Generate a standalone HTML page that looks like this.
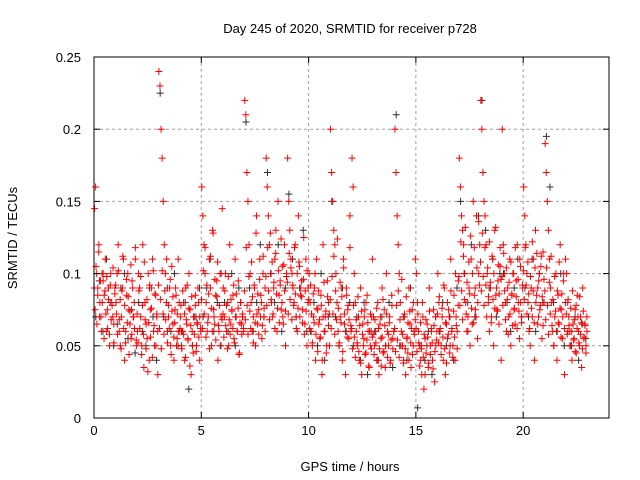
<!DOCTYPE html>
<html><head><meta charset="utf-8"><style>
body{margin:0;background:#fff}
svg{display:block;font-family:"Liberation Sans",sans-serif}
</style></head><body>
<svg id="c" width="640" height="480">
<g id="grid"></g>
<g id="pts"></g>
<g id="axes"></g>
<text x="350" y="33" text-anchor="middle" font-size="13">Day 245 of 2020, SRMTID for receiver p728</text>
<text x="350" y="471" text-anchor="middle" font-size="13">GPS time / hours</text>
<text transform="translate(17,238) rotate(-90)" text-anchor="middle" font-size="13">SRMTID / TECUs</text>
</svg>
<script>
const xTicks=[0,5,10,15,20];
const yTicks=[0,0.05,0.1,0.15,0.2,0.25];
const yTickLabels=["0","0.05","0.1","0.15","0.2","0.25"];
const redHours=[
[.145,.16,.1,.09,.12,.08,.07,.1,.095,.085,.11,.06,.075,.09,.05,.1,.08,.07,.065,.09],
[.08,.1,.12,.06,.05,.07,.09,.11,.04,.06,.085,.1,.075,.065,.055,.095,.07,.08,.11,.05],
[.06,.1,.09,.07,.05,.12,.035,.08,.065,.055,.1,.04,.075,.09,.11,.06,.05,.085,.07,.03],
[.24,.23,.2,.18,.15,.12,.1,.08,.06,.07,.09,.05,.105,.065,.04,.075,.085,.055,.11,.06],
[.07,.05,.06,.08,.04,.09,.065,.055,.1,.075,.03,.06,.045,.07,.085,.05,.065,.08,.04,.06],
[.16,.14,.12,.1,.08,.06,.07,.11,.09,.05,.13,.075,.065,.085,.095,.04,.06,.1,.07,.145],
[.09,.07,.1,.06,.08,.05,.12,.065,.075,.085,.055,.11,.07,.06,.095,.045,.08,.065,.07,.06],
[.22,.21,.17,.15,.12,.1,.08,.06,.07,.09,.05,.14,.065,.075,.11,.085,.055,.1,.07,.06],
[.18,.16,.14,.12,.1,.08,.07,.09,.11,.13,.06,.15,.085,.095,.075,.105,.065,.12,.05,.1],
[.18,.15,.13,.11,.1,.09,.08,.12,.07,.06,.14,.105,.085,.095,.075,.125,.065,.11,.05,.09],
[.1,.08,.06,.05,.07,.09,.04,.11,.075,.065,.055,.085,.03,.12,.06,.07,.045,.095,.08,.05],
[.2,.17,.15,.13,.12,.1,.08,.06,.05,.07,.09,.04,.11,.065,.03,.085,.075,.055,.14,.06],
[.18,.16,.1,.08,.06,.05,.07,.04,.09,.03,.065,.055,.075,.045,.085,.06,.035,.05,.07,.11],
[.07,.05,.06,.04,.08,.03,.065,.055,.09,.045,.075,.035,.1,.06,.05,.07,.04,.085,.055,.06],
[.2,.17,.14,.12,.1,.08,.06,.05,.04,.07,.03,.055,.045,.09,.065,.035,.075,.05,.06,.11],
[.1,.08,.06,.05,.04,.03,.07,.02,.055,.045,.065,.035,.09,.05,.06,.04,.075,.025,.05,.06],
[.1,.08,.06,.05,.07,.04,.09,.03,.065,.055,.075,.045,.11,.06,.05,.085,.04,.07,.06,.095],
[.18,.16,.14,.13,.12,.1,.08,.06,.07,.09,.05,.11,.065,.15,.085,.075,.14,.055,.1,.12],
[.22,.2,.17,.15,.14,.12,.1,.08,.06,.09,.07,.11,.05,.13,.085,.075,.095,.065,.105,.04],
[.2,.12,.1,.08,.06,.09,.07,.11,.05,.085,.1,.075,.065,.095,.12,.08,.055,.105,.07,.09],
[.16,.14,.12,.1,.08,.06,.05,.09,.07,.11,.04,.13,.085,.065,.095,.075,.105,.055,.115,.08],
[.19,.17,.15,.13,.11,.09,.08,.06,.05,.07,.1,.04,.085,.065,.12,.075,.055,.095,.03,.11],
[.1,.08,.07,.06,.05,.04,.065,.055,.075,.045,.085,.06,.05,.07,.035,.09,.055,.065,.045,.06]
];
const redHours2=[
[.09,.075,.105,.065,.085,.115,.07,.095,.06,.08,.1,.055,.088,.072,.098,.062,.082,.058,.092,.068,.078,.104,.052,.086],
[.092,.072,.058,.102,.068,.082,.048,.088,.112,.062,.078,.052,.096,.066,.084,.044,.074,.106,.058,.09,.07,.062,.118,.054],
[.072,.052,.088,.062,.098,.044,.078,.058,.108,.068,.048,.082,.032,.066,.092,.056,.076,.042,.102,.064,.086,.05,.072,.06],
[.092,.062,.082,.048,.102,.072,.058,.088,.068,.11,.052,.078,.062,.096,.044,.074,.084,.056,.066,.09,.05,.072,.06,.08],
[.062,.078,.048,.088,.058,.072,.042,.068,.092,.054,.076,.036,.064,.084,.05,.07,.058,.078,.046,.066,.09,.056,.07,.062],
[.082,.062,.102,.072,.118,.056,.092,.066,.086,.048,.112,.076,.06,.128,.07,.096,.054,.084,.108,.064,.078,.05,.1,.068],
[.072,.056,.088,.064,.078,.048,.098,.068,.058,.082,.074,.062,.092,.052,.07,.086,.06,.076,.044,.066,.08,.058,.072,.062],
[.088,.068,.118,.078,.058,.098,.074,.062,.108,.084,.052,.092,.066,.128,.072,.086,.058,.096,.07,.08,.064,.112,.076,.09],
[.098,.078,.118,.088,.068,.128,.082,.108,.072,.094,.062,.114,.086,.076,.102,.066,.092,.124,.08,.07,.106,.088,.074,.098],
[.094,.072,.114,.082,.104,.068,.092,.078,.118,.086,.062,.1,.076,.108,.07,.09,.084,.066,.096,.058,.088,.074,.102,.08],
[.082,.062,.092,.072,.052,.086,.066,.1,.058,.076,.046,.088,.068,.056,.078,.04,.07,.094,.06,.074,.05,.084,.064,.072],
[.082,.062,.098,.072,.112,.058,.088,.068,.124,.076,.052,.094,.066,.084,.046,.104,.072,.06,.09,.056,.078,.068,.118,.064],
[.062,.048,.078,.056,.042,.068,.052,.084,.046,.064,.038,.074,.058,.05,.07,.044,.08,.054,.066,.036,.06,.072,.048,.056],
[.058,.044,.068,.052,.076,.04,.062,.048,.07,.036,.056,.082,.046,.064,.05,.072,.042,.058,.066,.038,.054,.078,.048,.06],
[.062,.046,.078,.054,.088,.042,.068,.05,.096,.058,.038,.072,.048,.084,.056,.066,.04,.074,.052,.062,.044,.08,.058,.068],
[.062,.046,.072,.052,.036,.066,.048,.08,.042,.058,.03,.068,.05,.056,.038,.074,.044,.062,.052,.034,.064,.046,.07,.054],
[.072,.052,.084,.062,.044,.076,.056,.092,.048,.066,.038,.08,.058,.07,.05,.088,.062,.042,.074,.056,.1,.064,.048,.078],
[.098,.078,.122,.088,.068,.112,.082,.132,.072,.094,.06,.108,.086,.126,.076,.1,.066,.118,.09,.07,.104,.08,.136,.092],
[.108,.088,.128,.098,.078,.118,.092,.07,.104,.084,.122,.094,.066,.112,.082,.1,.076,.132,.09,.074,.106,.086,.118,.096],
[.098,.078,.114,.088,.068,.104,.082,.058,.094,.072,.108,.086,.064,.1,.076,.118,.084,.062,.096,.074,.11,.08,.066,.092],
[.102,.082,.118,.092,.072,.108,.086,.062,.098,.076,.122,.088,.066,.104,.08,.114,.09,.07,.1,.078,.112,.084,.064,.096],
[.088,.068,.104,.078,.058,.094,.072,.112,.064,.082,.05,.098,.074,.06,.088,.066,.108,.076,.056,.086,.07,.1,.062,.08],
[.072,.058,.082,.064,.05,.076,.06,.088,.054,.068,.046,.078,.062,.07,.052,.084,.058,.066,.048,.074,.056,.064,.05,.07]
];
const blackHours=[
[.07,.095,.06,.11,.08,.05],[.065,.09,.1,.055,.075,.045],[.08,.06,.05,.09,.07,.04],
[.225,.07,.09,.06,.1,.05],[.06,.08,.02,.05,.07,.09],[.07,.09,.11,.06,.08,.05],
[.08,.06,.1,.05,.09,.07],[.205,.09,.06,.08,.12,.07],[.17,.1,.08,.12,.06,.09],
[.155,.11,.07,.09,.13,.06],[.06,.08,.05,.1,.04,.07],[.15,.07,.05,.09,.06,.08],
[.05,.07,.04,.08,.03,.06],[.06,.04,.07,.05,.08,.035],[.21,.05,.07,.04,.09,.06],
[.007,.05,.04,.06,.03,.07],[.06,.08,.05,.07,.04,.09],[.15,.1,.08,.12,.07,.14],
[.22,.13,.09,.11,.07,.1],[.1,.08,.06,.09,.11,.07],[.09,.07,.11,.06,.1,.08],
[.195,.16,.08,.06,.1,.05],[.06,.05,.07,.04,.065,.055]
];
const L=94,R=609,T=57,B=418,XMAX=24,YMAX=0.25;
const sx=v=>L+(v/XMAX)*(R-L), sy=v=>B-(v/YMAX)*(B-T);
const NS="http://www.w3.org/2000/svg";
function mk(tag,attrs,parent){const e=document.createElementNS(NS,tag);for(const k in attrs)e.setAttribute(k,attrs[k]);parent.appendChild(e);return e;}
const grid=document.getElementById('grid'),axes=document.getElementById('axes'),pts=document.getElementById('pts');
xTicks.forEach(t=>{const x=sx(t);
 if(t>0){const g=mk('line',{x1:x,x2:x,y1:T,y2:B,stroke:'#a0a0a0','stroke-dasharray':'3,3'},grid);
 
 }
 mk('line',{x1:x,x2:x,y1:B,y2:B-6,stroke:'#000'},axes);mk('line',{x1:x,x2:x,y1:T,y2:T+6,stroke:'#000'},axes);
 const tx=mk('text',{x:x,y:B+17,'text-anchor':'middle','font-size':'13'},axes);tx.textContent=t;
 
 
});
yTicks.forEach((t,i)=>{const y=sy(t);
 if(t>0&&t<YMAX){const g=mk('line',{x1:L,x2:R,y1:y,y2:y,stroke:'#a0a0a0','stroke-dasharray':'3,3'},grid);
 
 }
 mk('line',{x1:L,x2:L+6,y1:y,y2:y,stroke:'#000'},axes);mk('line',{x1:R,x2:R-6,y1:y,y2:y,stroke:'#000'},axes);
 const tx=mk('text',{x:L-13,y:y+5,'text-anchor':'end','font-size':'13'},axes);tx.textContent=yTickLabels[i];
 
 
});
const fr=mk('rect',{x:L,y:T,width:R-L,height:B-T,fill:'none',stroke:'#000'},axes);


function plot(hours,color,name,off){let d='';
 hours.forEach((vals,h)=>{vals.forEach((v,i)=>{const x=sx(h+(i+off)/vals.length),y=sy(v);
  d+=`M${x-3.5},${y}h7M${x},${y-3.5}v7`;});});
 const p=mk('path',{d:d,stroke:color,'stroke-width':1,fill:'none'},pts);
 
 
}
plot(blackHours,'#303030','series-black-points',0.5);
plot(redHours,'#ff0000','series-red-points',0.5);
plot(redHours2,'#ff0000','series-red-points-2',0.25);
</script>
</body></html>
